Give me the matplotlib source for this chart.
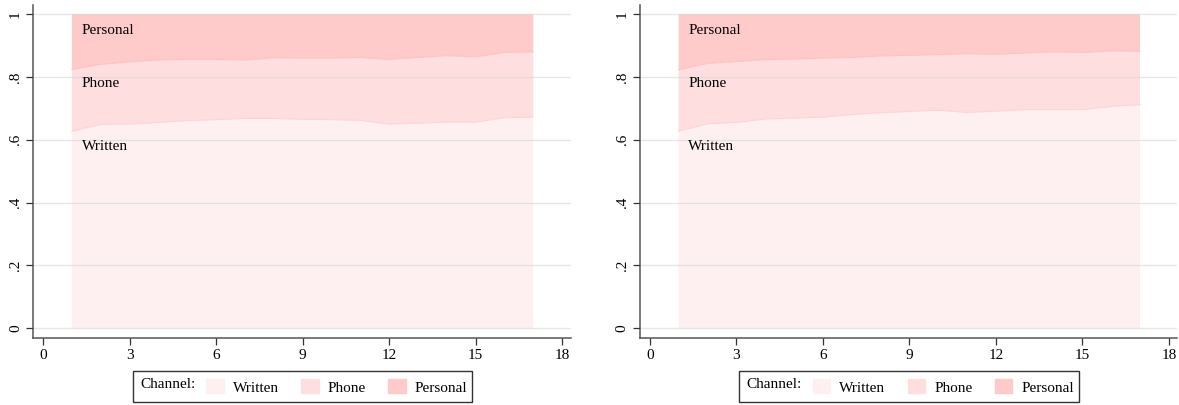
import numpy as np
import matplotlib
matplotlib.use("Agg")
from matplotlib import pyplot as plt
from matplotlib.patches import Patch, Rectangle

plt.rcParams['font.family'] = ['Liberation Serif', 'DejaVu Serif']
plt.rcParams['font.size'] = 11

periods = list(range(1, 18))
channels = ['Written', 'Phone', 'Personal']
colors = ['#FEF0F0', '#FFDEDF', '#FFCACA']
edges = ['#FDE6E6', '#FFD4D5', '#FFC2C2']

# shares per channel, left panel
left_written = [0.627, 0.649, 0.650, 0.655, 0.661, 0.664, 0.668, 0.668, 0.665,
                0.664, 0.662, 0.650, 0.653, 0.656, 0.656, 0.670, 0.672]
left_phone = [0.197, 0.191, 0.198, 0.199, 0.195, 0.192, 0.186, 0.193, 0.195,
              0.196, 0.200, 0.206, 0.209, 0.212, 0.208, 0.208, 0.208]
left_personal = [0.176, 0.160, 0.152, 0.146, 0.144, 0.144, 0.146, 0.139, 0.140,
                 0.140, 0.138, 0.144, 0.138, 0.132, 0.136, 0.122, 0.120]

# shares per channel, right panel
right_written = [0.627, 0.651, 0.655, 0.666, 0.669, 0.672, 0.680, 0.686, 0.690,
                 0.694, 0.687, 0.691, 0.696, 0.696, 0.696, 0.706, 0.712]
right_phone = [0.196, 0.192, 0.194, 0.189, 0.188, 0.188, 0.182, 0.181, 0.179,
               0.177, 0.187, 0.181, 0.180, 0.184, 0.182, 0.177, 0.170]
right_personal = [0.177, 0.157, 0.151, 0.145, 0.143, 0.140, 0.138, 0.133, 0.131,
                  0.129, 0.126, 0.128, 0.124, 0.120, 0.122, 0.117, 0.118]

xticks = [0, 3, 6, 9, 12, 15, 18]
yticks = [0, 0.2, 0.4, 0.6, 0.8, 1]
ytick_labels = ['0', '.2', '.4', '.6', '.8', '1']
label_y = [0.578, 0.780, 0.947]  # in-plot channel names


def draw_panel(ax, written, phone, personal):
    x = np.array(periods)
    stack = np.cumsum([written, phone, personal], axis=0)
    lower = np.zeros(len(x))
    for i in range(3):
        ax.fill_between(x, lower, stack[i], facecolor=colors[i],
                        linewidth=0, zorder=1)
        if i < 2:
            ax.plot(x, stack[i], color=edges[i + 1], linewidth=0.8, zorder=1.5)
        lower = stack[i]
    for name, yy in zip(channels, label_y):
        ax.text(1.34, yy, name, ha='left', va='center', zorder=3)

    ax.set_xlim(-0.34, 18.3)
    ax.set_ylim(-0.03, 1.03)
    ax.set_xticks(xticks)
    ax.set_yticks(yticks)
    ax.set_yticklabels(ytick_labels, rotation=90, va='center')
    ax.grid(axis='y', color='#d4d4d4', linewidth=1.0, alpha=0.55, zorder=2)
    ax.set_axisbelow(False)
    for s in ['top', 'right']:
        ax.spines[s].set_visible(False)
    for s in ['left', 'bottom']:
        ax.spines[s].set_color('#555555')
        ax.spines[s].set_linewidth(1.1)
    ax.tick_params(direction='out', length=5, width=0.9, color='#333333', pad=3)

    # legend box below the panel
    ax.add_patch(Rectangle((0.185, -0.194), 0.632, 0.094, transform=ax.transAxes,
                           fill=False, edgecolor='#333333', linewidth=1.0,
                           clip_on=False))
    ax.text(0.1986, -0.140, 'Channel:', transform=ax.transAxes,
            ha='left', va='center')
    handles = [Patch(facecolor=c, edgecolor=c) for c in colors]
    ax.legend(handles, channels, loc='center left', bbox_to_anchor=(0.3214, -0.148),
              ncol=3, frameon=False, borderpad=0, borderaxespad=0,
              handlelength=1.15, handleheight=1.0, handletextpad=0.6,
              columnspacing=1.45)


fig = plt.figure(figsize=(11.79, 4.05), dpi=100)
ax1 = fig.add_axes([0.0282, 0.1662, 0.4559, 0.8222])
ax2 = fig.add_axes([0.5428, 0.1662, 0.4559, 0.8222])
draw_panel(ax1, left_written, left_phone, left_personal)
draw_panel(ax2, right_written, right_phone, right_personal)

fig.savefig('out.png', dpi=100)
